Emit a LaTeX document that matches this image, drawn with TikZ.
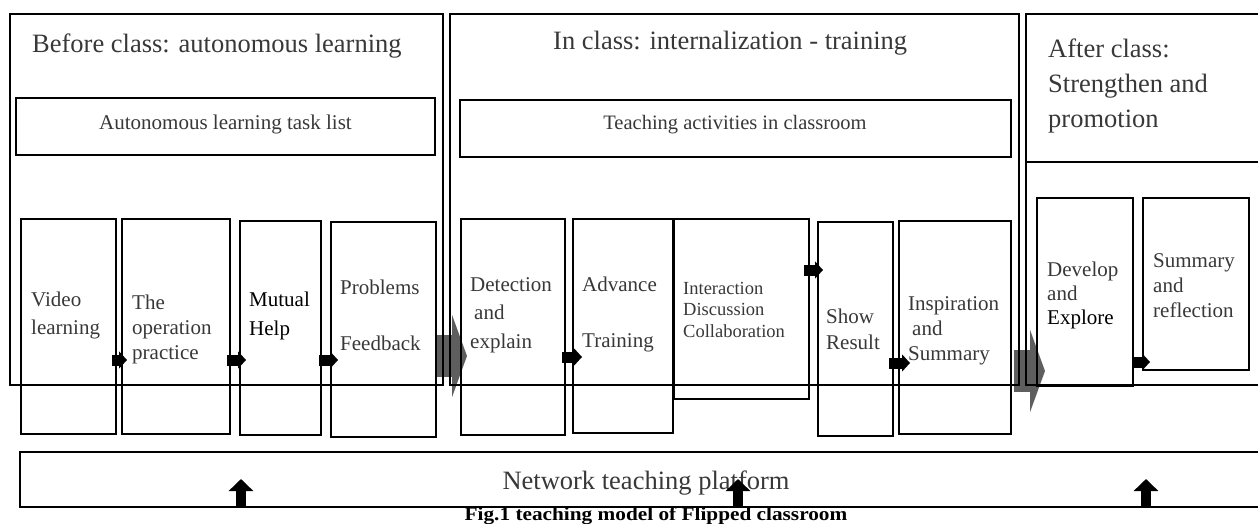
\documentclass[tikz,border=0pt]{standalone}
\usepackage{fontspec}
\setmainfont{Liberation Serif}
\usetikzlibrary{arrows.meta,backgrounds}
\definecolor{txt}{HTML}{383838}
\definecolor{gar}{HTML}{5E5E5E}
\newcommand\mylines[3]{\parbox[t]{200pt}{\raggedright\fontsize{#1}{#2}\selectfont #3}}
\begin{document}
\begin{tikzpicture}[x=1pt,y=-1pt,
  framebox/.style={draw=black, line width=2.6pt, anchor=north west, inner sep=0pt, outer sep=0pt},
  taskbox/.style={draw=black, line width=1.7pt, anchor=north west, inner sep=0pt, outer sep=0pt},
  subbox/.style={draw=black, line width=1.4pt, anchor=north west, inner sep=0pt, outer sep=0pt},
  frameline/.style={draw=black, line width=2.6pt},
  lbl/.style={anchor=base west, inner sep=0pt, text=txt},
  clbl/.style={anchor=base, inner sep=0pt, text=txt},
  smallarr/.style={draw=black, line width=11pt, -{Triangle[length=8pt,width=17pt]}},
  greyarr/.style={draw=gar, line width=42pt, -{Triangle[length=15pt,width=82pt]}},
  uparr/.style={draw=black, line width=10pt, -{Triangle[length=12pt,width=24pt]}}]
\useasboundingbox (0,0) rectangle (1258,524);

% sub boxes
\node[subbox, minimum width=95pt, minimum height=215pt] (A) at (21,219) {};
\node[subbox, minimum width=108pt, minimum height=215pt] (B) at (122,219) {};
\node[subbox, minimum width=81pt, minimum height=214pt] (C) at (240,221) {};
\node[subbox, minimum width=105pt, minimum height=215pt] (D) at (331,222) {};
\node[subbox, minimum width=104pt, minimum height=216pt] (E) at (461,219) {};
\node[subbox, minimum width=100pt, minimum height=214pt] (F) at (573,219) {};
\node[subbox, minimum width=135pt, minimum height=180pt] (G) at (674,219) {};
\node[subbox, minimum width=75pt, minimum height=214pt] (H) at (818,222) {};
\node[subbox, minimum width=112pt, minimum height=213pt] (I) at (899,221) {};
\node[subbox, minimum width=96pt, minimum height=188pt] (J) at (1037,198) {};
\node[subbox, minimum width=106pt, minimum height=172pt] (K) at (1143,198) {};

% big grey arrows behind the lines
\begin{scope}[on background layer]
\draw[greyarr] ([xshift=1pt]D.east |- 0,356) -- ([xshift=6pt]E.west |- 0,356);
\draw[greyarr] ([xshift=3pt]I.east |- 0,371) -- ([xshift=8pt]J.west |- 0,371);
\end{scope}

% frames
\node[framebox, minimum width=433pt, minimum height=371pt] (f1) at (10,14) {};
\node[framebox, minimum width=569pt, minimum height=371pt] (f2) at (450,14) {};
\node[inner sep=0pt, outer sep=0pt, anchor=north west, minimum width=240pt, minimum height=371pt] (f3) at (1026,14) {};
\draw[frameline] (f3.north east) -- (f3.north west) -- (f3.south west) -- (f3.south east);
\coordinate (f3m) at (1026,162);
\draw[frameline] (f3m) -- (f3m -| f3.east);

% task boxes
\node[taskbox, minimum width=419pt, minimum height=57pt] (t1) at (16,98) {};
\node[taskbox, minimum width=551pt, minimum height=57pt] (t2) at (460,100) {};

% headings
\node[lbl] (h1) at (32,53) {\fontsize{26.5}{30}\selectfont Before class: autonomous learning};
\node[lbl] (h2) at (553,50) {\fontsize{26.5}{30}\selectfont In class: internalization - training};
\node[lbl] (h3) at (1048,58) {\mylines{26.5}{35}{After class:\\Strengthen and\\promotion}};
\node[clbl] (t1l) at (225.5,130) {\fontsize{21}{24}\selectfont Autonomous learning task list};
\node[clbl] (t2l) at (735,130) {\fontsize{20.5}{24}\selectfont Teaching activities in classroom};

% box texts
\node[lbl] (tA) at (31,306) {\mylines{21}{28}{Video\\learning}};
\node[lbl] (tB) at (132,309) {\mylines{21}{25}{The\\operation\\practice}};
\node[lbl, text=black] (tC) at (249,306) {\mylines{21}{29}{Mutual\\Help}};
\node[lbl] (tD) at (340,294) {\mylines{21}{28}{Problems\\\mbox{}\\Feedback}};
\node[lbl] (tE) at (470,291) {\mylines{21}{28.5}{Detection\\\hspace*{4pt}and\\explain}};
\node[lbl] (tF) at (582,291) {\mylines{21}{28}{Advance\\\mbox{}\\Training}};
\node[lbl] (tG) at (683,294) {\mylines{18.5}{21.5}{Interaction\\Discussion\\Collaboration}};
\node[lbl] (tH) at (826,323) {\mylines{21}{26}{Show\\Result}};
\node[lbl] (tI) at (908,310) {\mylines{21}{25}{Inspiration\\\hspace*{4pt}and\\Summary}};
\node[lbl] (tJ) at (1047,276) {\mylines{21}{24}{Develop\\and\\\textcolor{black}{Explore}}};
\node[lbl] (tK) at (1153,267) {\mylines{21}{25}{Summary\\and\\reflection}};

% small black arrows
\draw[smallarr] ([xshift=-4pt]A.east |- 0,360) -- ([xshift=5pt]B.west |- 0,360);
\draw[smallarr] ([xshift=-3pt]B.east |- 0,360) -- ([xshift=6pt]C.west |- 0,360);
\draw[smallarr] ([xshift=-2pt]C.east |- 0,360) -- ([xshift=7pt]D.west |- 0,360);
\draw[smallarr] ([xshift=-3pt]E.east |- 0,357) -- ([xshift=9pt]F.west |- 0,357);
\draw[smallarr] ([xshift=-5pt]G.east |- 0,270) -- ([xshift=5pt]H.west |- 0,270);
\draw[smallarr] ([xshift=-4pt]H.east |- 0,363) -- ([xshift=11pt]I.west |- 0,363);
\draw[smallarr] ([xshift=-1pt]J.east |- 0,362) -- ([xshift=7pt]K.west |- 0,362);

% platform
\node[inner sep=0pt, outer sep=0pt, anchor=north west, minimum width=1245pt, minimum height=55pt] (plat) at (20,452) {};
\draw[frameline] (plat.north east) -- (plat.north west) -- (plat.south west) -- (plat.south east);
\node[clbl] (platl) at (646,489) {\fontsize{26.5}{30}\selectfont Network teaching platform};
\draw[uparr] (plat.south -| 241,0) -- ++(0,-28);
\draw[uparr] (plat.south -| 738,0) -- ++(0,-28);
\draw[uparr] (plat.south -| 1146,0) -- ++(0,-28);

% caption
\node[anchor=base, inner sep=0pt, text=black] (cap) at (656,520) {\scalebox{1.12}[1]{\fontsize{19}{20}\selectfont\bfseries Fig.1 teaching model of Flipped classroom}};
\end{tikzpicture}
\end{document}
